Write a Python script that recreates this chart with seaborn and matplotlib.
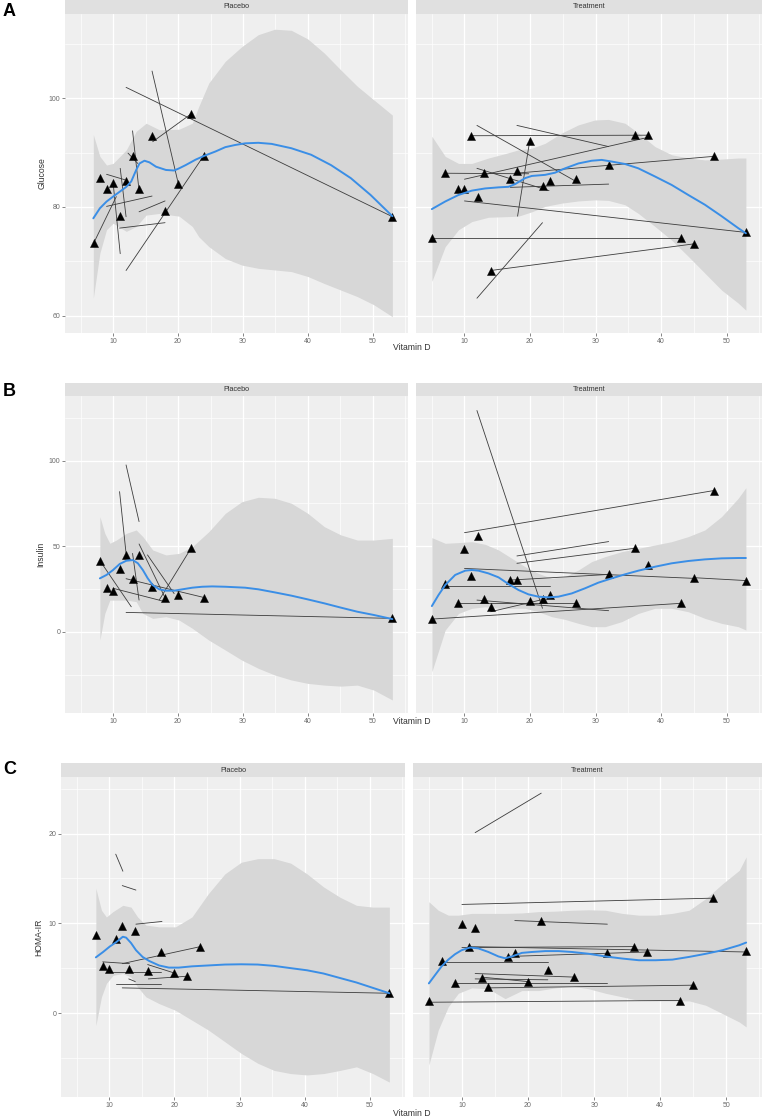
import matplotlib
matplotlib.use('Agg')
import matplotlib.pyplot as plt
import seaborn as sns

sns.set_theme(style='darkgrid')
plt.rcParams['font.family'] = ['Liberation Sans', 'DejaVu Sans']

# ---------------- A: Glucose ----------------
# Placebo
glu_pl_x = [7, 8, 9, 10, 11, 12, 13, 14, 16, 18, 20, 22, 24, 53]
glu_pl_y = [73.3, 85.3, 83.3, 84.4, 78.3, 84.7, 89.3, 83.3, 93.1, 79.3, 84.2, 97.1, 89.3, 78.2]
glu_pl_x0 = [12, 16, 16.1, 12, 7, 13, 11.1, 10, 9, 12.3, 9, 14, 11]
glu_pl_y0 = [102.0, 105.0, 92.0, 68.3, 73.3, 94.0, 87.1, 84.5, 86.0, 89.9, 80.1, 79.1, 76.1]
glu_pl_x1 = [53, 20, 22, 24, 10.5, 14, 12, 11.1, 11.8, 13.8, 16, 18, 18]
glu_pl_y1 = [78.2, 84.5, 97.1, 89.5, 81.9, 83.0, 78.2, 71.4, 85.0, 88.0, 82.0, 81.1, 77.1]
glu_pl_fit_x = [6.96, 7.97, 8.99, 10.0, 11.02, 12.04, 12.8, 13.56, 14.07, 14.83, 15.6, 16.61, 18.14,
                19.4, 20.17, 21.18, 22.71, 24.03, 25.76, 27.28, 28.8, 30.33, 32.36, 34.4, 37.44,
                40.49, 43.54, 46.59, 49.64, 52.99]
glu_pl_fit_y = [77.9, 79.75, 80.98, 81.9, 82.8, 83.7, 84.7, 86.8, 88.0, 88.5, 88.2, 87.4, 86.8,
                86.7, 87.1, 87.7, 88.7, 89.4, 90.2, 91.0, 91.4, 91.7, 91.8, 91.6, 90.8, 89.6,
                87.7, 85.3, 82.2, 78.3]
glu_pl_band_x = [6.96, 7.97, 8.99, 10.0, 12.04, 13.56, 15.09, 17.12, 20.17, 22.2, 23.2, 24.74,
                 27.28, 29.82, 32.36, 34.9, 37.44, 39.98, 42.52, 45.06, 47.6, 50.14, 52.99]
glu_pl_hi = [93.3, 89.3, 87.7, 88.0, 90.5, 93.9, 95.4, 94.2, 94.3, 95.4, 98.5, 102.8, 106.8,
             109.5, 111.7, 112.7, 112.5, 110.9, 108.3, 105.2, 102.2, 99.7, 96.9]
glu_pl_lo = [63.2, 71.5, 75.8, 77.0, 75.5, 76.4, 78.5, 78.8, 78.3, 76.4, 74.5, 72.7, 70.5,
             69.3, 68.7, 68.4, 68.1, 67.2, 65.9, 64.7, 63.5, 62.0, 59.8]

# Treatment
glu_tr_x = [5, 7, 9, 10, 11, 12, 13, 14, 17, 18, 20, 22, 23, 27, 32, 36, 38, 43, 45, 48, 53]
glu_tr_y = [74.2, 86.2, 83.3, 83.3, 93.1, 81.8, 86.2, 68.3, 85.2, 86.7, 92.2, 83.9, 84.7, 85.2,
            87.7, 93.2, 93.2, 74.2, 73.2, 89.3, 75.3]
glu_tr_x0 = [5, 11, 18, 11.9, 14, 11.9, 10, 18.1, 7, 10, 17.8, 11.9, 17]
glu_tr_y0 = [74.2, 93.1, 95.0, 95.0, 68.3, 63.2, 81.1, 78.3, 86.2, 85.1, 86.2, 87.1, 83.6]
glu_tr_x1 = [43, 38, 32, 27, 45, 21.9, 53, 20, 19.8, 38, 48, 22.9, 32]
glu_tr_y1 = [74.2, 93.2, 91.1, 84.7, 73.2, 77.1, 75.3, 92.5, 86.1, 92.8, 89.3, 83.0, 84.2]
glu_tr_fit_x = [5.02, 7.06, 9.09, 11.12, 13.15, 15.19, 16.71, 17.73, 19.25, 20.27, 22.3, 23.82,
                25.35, 27.38, 29.41, 30.94, 32.46, 34.49, 36.53, 39.07, 41.61, 44.15, 46.69,
                49.23, 51.77, 52.94]
glu_tr_fit_y = [79.6, 81.0, 82.2, 83.0, 83.4, 83.6, 83.7, 84.2, 85.3, 85.7, 85.9, 86.3, 87.1,
                88.0, 88.5, 88.65, 88.35, 87.9, 87.1, 85.6, 84.05, 82.2, 80.4, 78.3, 76.1, 75.15]
glu_tr_band_x = [5.02, 7.06, 9.09, 11.12, 13.66, 16.2, 18.24, 20.27, 22.3, 24.84, 27.38, 29.92,
                 31.95, 34.49, 36.53, 39.07, 41.61, 44.15, 46.69, 49.23, 51.77, 52.94]
glu_tr_hi = [93.0, 89.3, 88.0, 88.0, 89.0, 89.8, 90.5, 90.8, 91.7, 93.6, 95.1, 96.0, 96.1, 95.4,
             93.6, 91.1, 89.6, 89.0, 88.65, 88.8, 89.0, 89.0]
glu_tr_lo = [66.3, 72.7, 75.8, 77.3, 78.1, 78.2, 78.3, 79.1, 80.1, 80.7, 81.1, 81.3, 81.2, 80.4,
             78.8, 76.4, 73.9, 70.9, 67.8, 64.7, 62.3, 61.0]

# ---------------- B: Insulin ----------------
ins_pl_x = [8, 9, 10, 11, 12, 13, 14, 16, 18, 20, 22, 24, 53]
ins_pl_y = [41.4, 25.4, 23.8, 36.7, 44.9, 30.8, 44.9, 26.3, 19.9, 21.5, 48.8, 19.9, 7.8]
ins_pl_x0 = [12, 11, 13, 14, 15.3, 22, 8, 12, 10, 12]
ins_pl_y0 = [97.5, 81.9, 45.8, 51.3, 44.9, 48.8, 41.4, 11.3, 25.4, 31.0]
ins_pl_x1 = [14, 12, 14, 18, 19.4, 17.1, 12.8, 53, 18, 24]
ins_pl_y1 = [64.4, 45.8, 18.5, 19.9, 22.3, 18.5, 14.6, 7.8, 17.6, 20.0]
ins_pl_fit_x = [7.97, 8.99, 10.0, 11.02, 12.04, 13.05, 13.82, 14.58, 15.34, 16.1, 17.12, 18.13,
                19.4, 20.67, 22.2, 23.72, 25.25, 27.28, 30.33, 32.36, 34.9, 37.44, 39.98, 42.52,
                45.06, 47.6, 50.14, 52.99]
ins_pl_fit_y = [31.2, 33.2, 36.1, 39.6, 41.5, 41.9, 40.0, 36.1, 31.2, 27.3, 24.8, 24.0, 24.0,
                24.8, 25.75, 26.3, 26.5, 26.3, 25.75, 24.8, 23.0, 21.1, 18.9, 16.6, 14.1, 11.7,
                9.8, 7.4]
ins_pl_band_x = [7.97, 8.73, 9.5, 10.51, 12.04, 13.56, 14.58, 16.1, 18.13, 20.17, 22.2, 24.74,
                 27.28, 29.82, 32.36, 34.9, 37.44, 39.98, 42.52, 45.06, 47.6, 50.14, 52.99]
ins_pl_hi = [67.3, 57.5, 51.7, 53.6, 57.5, 59.5, 55.6, 47.8, 44.9, 45.8, 49.7, 58.5, 69.2, 76.0,
             78.6, 78.0, 75.1, 69.2, 61.4, 56.6, 53.6, 53.6, 54.6]
ins_pl_lo = [-4.9, 10.7, 18.5, 18.5, 18.5, 17.6, 10.7, 7.8, 8.8, 6.8, 2.0, -4.9, -10.7, -16.6,
             -21.4, -25.3, -28.2, -30.2, -31.2, -31.8, -31.2, -34.1, -39.9]

ins_tr_x = [5, 7, 9, 10, 11, 12, 13, 14, 17, 18, 20, 22, 23, 27, 32, 36, 38, 43, 45, 48, 53]
ins_tr_y = [7.4, 27.7, 16.6, 48.2, 32.6, 56.0, 18.9, 14.6, 30.2, 30.2, 18.2, 18.9, 21.5, 16.6,
            33.6, 48.8, 39.0, 16.6, 31.6, 82.5, 29.9]
ins_tr_x0 = [11.9, 10, 18, 18, 10, 7, 5, 45, 17, 9, 11.9, 14]
ins_tr_y0 = [129.3, 57.9, 44.3, 40.0, 37.0, 26.9, 7.4, 31.6, 30.2, 16.6, 18.5, 11.7]
ins_tr_x1 = [21.9, 48, 32, 36, 45, 23, 43, 53, 32, 27, 32, 22]
ins_tr_y1 = [13.7, 82.5, 52.7, 48.8, 31.2, 26.9, 16.6, 29.9, 33.5, 16.6, 12.3, 18.9]
ins_tr_fit_x = [5.02, 6.04, 7.06, 8.58, 10.11, 11.12, 12.14, 13.66, 15.19, 16.71, 18.24, 19.76,
                21.28, 22.81, 24.33, 26.37, 28.4, 30.43, 32.46, 34.49, 36.53, 39.07, 41.61,
                44.15, 46.69, 49.23, 51.77, 52.94]
ins_tr_fit_y = [15.0, 21.5, 27.3, 33.2, 35.7, 36.1, 35.7, 34.1, 31.8, 27.9, 24.4, 21.85, 20.5,
                20.1, 20.5, 22.4, 25.4, 28.7, 31.2, 33.55, 35.7, 38.0, 40.0, 41.35, 42.3, 42.9,
                43.1, 43.1]
ins_tr_band_x = [5.02, 7.06, 9.09, 11.12, 13.15, 15.19, 17.22, 19.25, 21.28, 23.32, 25.35, 27.38,
                 29.41, 31.45, 33.99, 36.53, 39.07, 41.61, 44.15, 46.69, 49.23, 51.77, 52.94]
ins_tr_hi = [55.0, 51.7, 52.1, 52.65, 51.1, 47.8, 42.9, 38.0, 34.1, 31.2, 32.2, 36.1, 41.0, 43.9,
             46.8, 48.75, 50.7, 52.65, 55.6, 59.5, 67.3, 78.0, 84.2]
ins_tr_lo = [-23.4, 1.0, 10.7, 13.7, 14.6, 13.7, 13.7, 13.7, 11.7, 8.8, 7.2, 4.9, 2.95, 2.95,
             5.9, 10.7, 13.7, 13.7, 11.7, 7.8, 4.9, 2.95, 1.0]

# ---------------- C: HOMA-IR ----------------
hom_pl_x = [8, 9, 10, 11, 12, 13, 14, 16, 18, 20, 22, 24, 53]
hom_pl_y = [8.7, 5.25, 4.85, 8.3, 9.7, 4.85, 9.15, 4.7, 6.8, 4.5, 4.1, 7.4, 2.2]
hom_pl_x0 = [11, 12, 14.1, 12, 9, 10, 15.9, 16, 11, 12, 13]
hom_pl_y0 = [17.7, 14.2, 9.9, 5.5, 5.7, 4.6, 5.4, 3.8, 3.2, 2.8, 3.8]
hom_pl_x1 = [12.1, 14.1, 18.1, 24, 13.1, 18, 19.8, 22, 18, 53, 14]
hom_pl_y1 = [15.8, 13.7, 10.2, 7.4, 5.5, 4.6, 4.5, 4.1, 3.2, 2.2, 3.5]
hom_pl_fit_x = [7.95, 9.06, 10.07, 11.08, 12.09, 12.6, 13.35, 14.11, 15.12, 16.13, 17.65, 19.16,
                20.68, 22.7, 25.22, 27.75, 30.27, 32.8, 35.32, 37.85, 40.37, 42.9, 45.42, 47.95,
                50.47, 53.0]
hom_pl_fit_y = [6.2, 6.8, 7.4, 7.9, 8.5, 8.4, 7.8, 7.0, 6.25, 5.8, 5.3, 5.06, 5.06, 5.2, 5.3, 5.4,
                5.43, 5.4, 5.25, 5.0, 4.76, 4.4, 3.9, 3.4, 2.8, 2.2]
hom_pl_band_x = [7.95, 8.81, 9.57, 10.58, 12.09, 13.35, 14.36, 15.63, 17.65, 20.17, 22.7, 25.22,
                 27.75, 30.27, 32.8, 35.32, 37.85, 40.37, 42.9, 45.42, 47.95, 50.47, 53.0]
hom_pl_hi = [13.9, 11.45, 10.7, 11.3, 12.0, 11.8, 10.7, 9.8, 9.6, 9.6, 10.7, 13.3, 15.5, 16.8,
             17.2, 17.2, 16.7, 15.5, 14.05, 12.9, 12.0, 11.8, 11.8]
hom_pl_lo = [-1.4, 1.8, 3.3, 4.2, 4.4, 4.0, 2.9, 1.8, 1.05, 0.3, -0.8, -1.9, -3.2, -4.5, -5.6,
             -6.4, -6.75, -6.9, -6.75, -6.4, -6.0, -6.75, -7.7]

hom_tr_x = [5, 7, 9, 10, 11, 12, 13, 14, 17, 18, 20, 22, 23, 27, 32, 36, 38, 43, 45, 48, 53]
hom_tr_y = [1.35, 5.8, 3.3, 9.9, 7.4, 9.5, 3.9, 2.9, 6.2, 6.7, 3.5, 10.3, 4.8, 4.0, 6.7, 7.4,
            6.8, 1.35, 3.1, 12.8, 6.9]
hom_tr_x0 = [12, 10, 18, 11, 10, 17, 7, 12, 12, 9, 14, 5, 13]
hom_tr_y0 = [20.1, 12.1, 10.3, 7.4, 7.3, 6.3, 5.7, 4.4, 3.8, 3.3, 2.8, 1.2, 4.0]
hom_tr_x1 = [22, 48, 32, 53, 36, 38, 23, 27, 23, 32, 45, 43, 20]
hom_tr_y1 = [24.5, 12.8, 9.9, 6.8, 7.4, 6.8, 5.7, 4.0, 3.7, 3.3, 3.1, 1.4, 3.5]
hom_tr_fit_x = [5.0, 5.91, 6.93, 7.94, 8.95, 9.96, 11.23, 12.49, 14.01, 15.53, 16.54, 17.55,
                19.07, 20.59, 22.61, 24.64, 26.66, 29.19, 31.72, 34.25, 36.78, 39.31, 41.84,
                44.37, 46.9, 49.43, 51.96, 53.0]
hom_tr_fit_y = [3.3, 4.2, 5.2, 5.95, 6.55, 7.0, 7.3, 7.2, 6.8, 6.3, 6.1, 6.3, 6.7, 6.8, 6.9, 6.9,
                6.8, 6.6, 6.3, 6.07, 5.88, 5.88, 5.95, 6.25, 6.6, 7.0, 7.55, 7.85]
hom_tr_band_x = [5.0, 6.42, 7.94, 9.46, 11.48, 14.01, 16.54, 19.07, 21.6, 24.13, 26.66, 29.19,
                 31.72, 34.25, 36.78, 39.31, 41.84, 44.37, 46.9, 49.43, 51.96, 53.0]
hom_tr_hi = [12.4, 11.45, 10.9, 10.9, 11.1, 11.1, 11.1, 11.15, 11.3, 11.35, 11.45, 11.5, 11.45,
             11.1, 10.9, 10.9, 11.1, 11.45, 12.75, 14.4, 15.9, 17.4]
hom_tr_lo = [-5.8, -1.9, 0.7, 2.2, 2.8, 2.7, 1.6, 2.5, 2.5, 2.8, 3.0, 2.7, 2.2, 1.8, 1.4, 1.35,
             1.35, 1.35, 0.86, -0.07, -1.0, -1.55]

facet_names = ['Placebo', 'Treatment']
row_labels = ['A', 'B', 'C']
y_titles = ['Glucose', 'Insulin', 'HOMA-IR']

PANEL = '#efefef'
STRIP = '#e0e0e0'
BAND = '#d7d7d7'
BLUE = '#3a8ee6'
SEG = '#3c3c3c'

W, H = 762, 1120
fig = plt.figure(figsize=(W / 100, H / 100), dpi=100)
fig.patch.set_facecolor('white')


def box(l, t, r, b):
    return [l / W, 1 - b / H, (r - l) / W, (b - t) / H]


def facet(rect, strip_rect, name, px, py, x0, y0, x1, y1, fx, fy, bx, lo, hi,
          ylim, yticks, yminor, show_y):
    ax = fig.add_axes(box(*rect))
    ax.set_facecolor(PANEL)
    ax.fill_between(bx, lo, hi, color=BAND, lw=0, zorder=1)
    for a, b, c, d in zip(x0, y0, x1, y1):
        ax.plot([a, c], [b, d], color=SEG, lw=0.6, zorder=2)
    sns.scatterplot(x=px, y=py, ax=ax, marker='^', s=34, color='black',
                    edgecolor='black', linewidth=0.3, zorder=3)
    sns.lineplot(x=fx, y=fy, ax=ax, color=BLUE, lw=1.4, sort=False,
                 estimator=None, zorder=4)
    ax.set_xlim(2.6, 55.4)
    ax.set_ylim(*ylim)
    ax.set_xticks([10, 20, 30, 40, 50])
    ax.set_xticks([5, 15, 25, 35, 45, 55], minor=True)
    ax.set_yticks(yticks)
    ax.set_yticks(yminor, minor=True)
    ax.grid(which='major', color='white', lw=0.9)
    ax.grid(which='minor', color='white', lw=0.45)
    ax.set_axisbelow(True)
    for s in ax.spines.values():
        s.set_visible(False)
    ax.tick_params(which='major', length=2, width=0.5, color='#555555',
                   labelsize=5, labelcolor='#6a6a6a', pad=1.5,
                   bottom=True, left=show_y, labelleft=show_y)
    ax.tick_params(which='minor', length=0)
    ax.set_xlabel('')
    ax.set_ylabel('')

    st = fig.add_axes(box(*strip_rect))
    st.set_facecolor(STRIP)
    st.set_xticks([])
    st.set_yticks([])
    for s in st.spines.values():
        s.set_visible(False)
    st.text(0.5, 0.5, name, ha='center', va='center', fontsize=5.2, color='#333333',
            transform=st.transAxes)
    return ax


# Row A
facet((65, 14, 408, 333), (65, 0, 408, 14), facet_names[0], glu_pl_x, glu_pl_y,
      glu_pl_x0, glu_pl_y0, glu_pl_x1, glu_pl_y1, glu_pl_fit_x, glu_pl_fit_y,
      glu_pl_band_x, glu_pl_lo, glu_pl_hi, (56.8, 115.5), [60, 80, 100], [70, 90, 110], True)
facet((416, 14, 762, 333), (416, 0, 762, 14), facet_names[1], glu_tr_x, glu_tr_y,
      glu_tr_x0, glu_tr_y0, glu_tr_x1, glu_tr_y1, glu_tr_fit_x, glu_tr_fit_y,
      glu_tr_band_x, glu_tr_lo, glu_tr_hi, (56.8, 115.5), [60, 80, 100], [70, 90, 110], False)

# Row B
facet((65, 396, 408, 713), (65, 383, 408, 396), facet_names[0], ins_pl_x, ins_pl_y,
      ins_pl_x0, ins_pl_y0, ins_pl_x1, ins_pl_y1, ins_pl_fit_x, ins_pl_fit_y,
      ins_pl_band_x, ins_pl_lo, ins_pl_hi, (-47.5, 137.8), [0, 50, 100], [-25, 25, 75, 125], True)
facet((416, 396, 762, 713), (416, 383, 762, 396), facet_names[1], ins_tr_x, ins_tr_y,
      ins_tr_x0, ins_tr_y0, ins_tr_x1, ins_tr_y1, ins_tr_fit_x, ins_tr_fit_y,
      ins_tr_band_x, ins_tr_lo, ins_tr_hi, (-47.5, 137.8), [0, 50, 100], [-25, 25, 75, 125], False)

# Row C
facet((61, 777, 405, 1097), (61, 763, 405, 777), facet_names[0], hom_pl_x, hom_pl_y,
      hom_pl_x0, hom_pl_y0, hom_pl_x1, hom_pl_y1, hom_pl_fit_x, hom_pl_fit_y,
      hom_pl_band_x, hom_pl_lo, hom_pl_hi, (-9.36, 26.3), [0, 10, 20], [-5, 5, 15, 25], True)
facet((413, 777, 762, 1097), (413, 763, 762, 777), facet_names[1], hom_tr_x, hom_tr_y,
      hom_tr_x0, hom_tr_y0, hom_tr_x1, hom_tr_y1, hom_tr_fit_x, hom_tr_fit_y,
      hom_tr_band_x, hom_tr_lo, hom_tr_hi, (-9.36, 26.3), [0, 10, 20], [-5, 5, 15, 25], False)

# labels
for lab, yl, ycen, ylab_x, xlab_y, let_y in zip(row_labels, y_titles,
                                                 [173, 554, 937], [42, 41, 39],
                                                 [347, 722, 1114], [11, 391, 770]):
    fig.text(3 / W, 1 - let_y / H, lab, fontsize=13, fontweight='bold', va='center',
             ha='left', color='black')
    fig.text(ylab_x / W, 1 - ycen / H, yl, rotation=90, fontsize=6.2, va='center',
             ha='center', color='#333333')
    fig.text(412 / W, 1 - xlab_y / H, 'Vitamin D', fontsize=6.2, va='center',
             ha='center', color='#333333')

fig.savefig('out.png', dpi=100, facecolor='white')
